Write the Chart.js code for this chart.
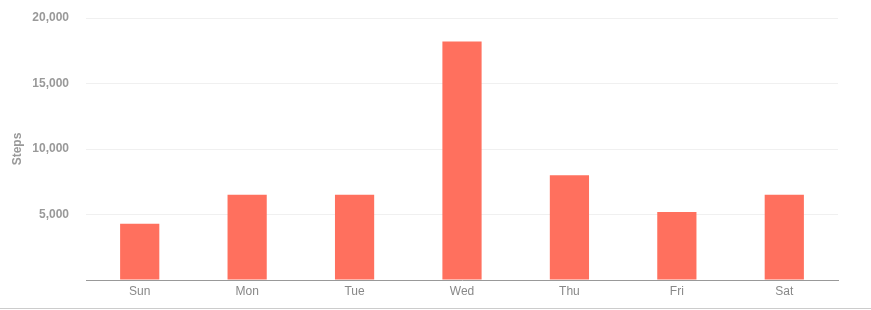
<!DOCTYPE html>
<html>
<head>
<meta charset="utf-8">
<script src="https://cdn.jsdelivr.net/npm/chart.js@4"></script>
<style>
  html, body { margin: 0; padding: 0; background: #fff; }
  #wrap { width: 871px; height: 308px; border-bottom: 1px solid #ccc; }
</style>
</head>
<body>
<div id="wrap"><canvas id="chart" width="871" height="308"></canvas></div>
<script>
// data
const days = ['Sun', 'Mon', 'Tue', 'Wed', 'Thu', 'Fri', 'Sat'];
const steps = [4300, 6500, 6500, 18200, 8000, 5200, 6500];
const yTicks = [0, 5000, 10000, 15000, 20000];

const ctx = document.getElementById('chart');

new Chart(ctx, {
    type: 'bar',
    data: {
        labels: days,
        datasets: [{
            label: 'Steps',
            data: steps,
            backgroundColor: '#ff705e',
            barPercentage: 0.365,
            categoryPercentage: 1
        }]
    },
    options: {
        responsive: false,
        animation: false,
        layout: { autoPadding: false, padding: { top: 18, right: 33, bottom: 0, left: 0 } },
        plugins: { legend: { display: false }, tooltip: { enabled: false } },
        scales: {
            x: {
                grid: { display: false },
                border: { color: '#999', width: 1 },
                ticks: {
                    color: '#888',
                    font: { family: 'Arial, "Liberation Sans", sans-serif', size: 12 },
                    padding: -4
                },
                afterFit: (scale) => { scale.height = 28; }
            },
            y: {
                min: 0,
                max: 20000,
                afterBuildTicks: (scale) => { scale.ticks = yTicks.map(v => ({ value: v })); },
                grid: {
                    drawTicks: false,
                    color: (c) => c.tick && c.tick.value === 0 ? 'rgba(0,0,0,0)' : '#f0f0f0'
                },
                border: { display: false },
                ticks: {
                    color: '#999',
                    padding: 17,
                    font: { family: 'Arial, "Liberation Sans", sans-serif', size: 12, weight: 'bold' },
                    callback: (v) => v === 0 ? '' : v.toLocaleString('en-US')
                },
                title: {
                    display: true,
                    text: 'Steps',
                    color: '#999',
                    font: { family: 'Arial, "Liberation Sans", sans-serif', size: 12, weight: 'bold' },
                    padding: { top: 10, bottom: 0 }
                },
                afterFit: (scale) => {
                    scale.width = 86;
                    // tick padding would otherwise push the plot top down
                    scale.paddingTop = 0;
                    scale.paddingBottom = 0;
                }
            }
        }
    }
});
</script>
</body>
</html>
